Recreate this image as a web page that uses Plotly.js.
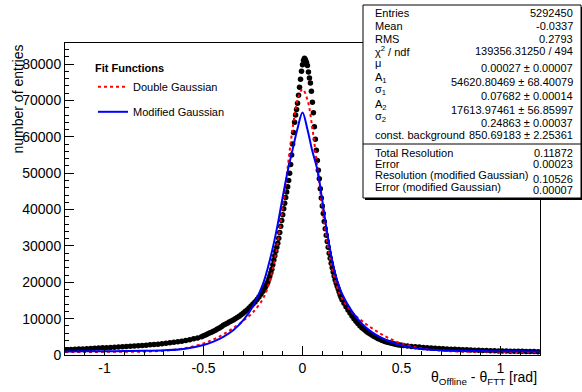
<!DOCTYPE html>
<html>
<head>
<meta charset="utf-8">
<script src="https://cdn.plot.ly/plotly-3.0.1.min.js"></script>
<style>html,body{margin:0;padding:0;background:#fff;}#plot{width:582px;height:392px;}</style>
</head>
<body>
<div id="plot"></div>
<script>
// ---- data ----
const xData = [
 -1.19,-1.17,-1.15,-1.13,-1.11,-1.09,-1.07,-1.05,-1.03,-1.01,-0.99,-0.97,-0.95,-0.93,-0.91,-0.89,-0.87,-0.85,-0.83,-0.81,-0.79,-0.77,-0.75,-0.73,-0.71,-0.69,-0.67,-0.65,-0.63,-0.61,-0.59,-0.57,-0.55,-0.53,-0.51,
 -0.50,-0.49,-0.48,-0.47,-0.46,-0.45,-0.44,-0.43,-0.42,-0.41,-0.40,-0.39,-0.38,-0.37,-0.36,-0.35,-0.34,-0.33,-0.32,-0.31,-0.30,-0.29,-0.28,-0.27,-0.26,-0.25,-0.24,-0.23,-0.22,-0.21,
 -0.200,-0.195,-0.190,-0.185,-0.180,-0.175,-0.170,-0.165,-0.160,-0.155,-0.150,-0.145,-0.140,-0.135,-0.130,-0.125,-0.120,-0.115,-0.110,-0.105,-0.100,-0.095,-0.090,-0.085,-0.080,-0.075,-0.070,-0.065,-0.060,-0.055,-0.050,-0.045,-0.040,-0.035,-0.030,-0.025,-0.020,-0.015,-0.010,-0.005,
 0.000,0.005,0.010,0.015,0.020,0.025,0.030,0.035,0.040,0.045,0.050,0.055,0.060,0.065,0.070,0.075,0.080,0.085,0.090,0.095,0.100,0.105,0.110,0.115,0.120,0.125,0.130,0.135,0.140,0.145,0.150,0.155,0.160,0.165,0.170,0.175,0.180,0.185,0.190,0.195,0.200,
 0.21,0.22,0.23,0.24,0.25,0.26,0.27,0.28,0.29,0.30,0.31,0.32,0.33,0.34,0.35,0.36,0.37,0.38,0.39,0.40,0.41,0.42,0.43,0.44,0.45,0.46,0.47,0.48,0.49,0.50,
 0.51,0.53,0.55,0.57,0.59,0.61,0.63,0.65,0.67,0.69,0.71,0.73,0.75,0.77,0.79,0.81,0.83,0.85,0.87,0.89,0.91,0.93,0.95,0.97,0.99,1.01,1.03,1.05,1.07,1.09,1.11,1.13,1.15,1.17,1.19
];
const yData = [
 1470,1520,1570,1620,1670,1730,1790,1850,1910,1970,2020,2080,2140,2200,2260,2330,2400,2470,2550,2620,2700,2790,2880,2980,3090,3210,3340,3480,3640,3810,4000,4210,4440,4690,5050,
 5300,5530,5770,6020,6280,6550,6840,7140,7450,7780,8150,8450,8750,9050,9350,9650,9950,10300,10650,11050,11500,11950,12400,12900,13450,14000,14600,15250,15950,16700,
 17500,17950,18450,18950,19500,20100,20900,21700,22600,23600,24800,26100,27300,28500,29600,30700,32100,33700,35400,37000,38600,40200,41700,43300,44800,46300,48000,50000,52400,55000,58000,61200,64000,66000,67500,69200,71400,73600,75800,78000,
 79800,81000,81600,81200,80500,79600,77800,76200,74800,72500,69500,66600,62800,59300,56300,53500,50800,48500,45700,43200,41000,38900,36700,34700,32900,31200,29600,28000,26600,25200,24000,22800,21700,20700,19800,19000,18200,17400,16600,15900,15200,
 14200,13300,12400,11550,10750,10000,9300,8650,8050,7500,7050,6600,6200,5820,5470,5150,4850,4570,4310,4070,3860,3670,3500,3340,3200,3070,2950,2840,2740,2650,
 2600,2480,2370,2270,2180,2090,2000,1920,1850,1780,1720,1660,1600,1550,1500,1450,1410,1370,1330,1290,1250,1220,1190,1160,1130,1100,1080,1060,1040,1020,1000,980,960,940,920
];
const xFit = [-1.2,-1.1,-1.0,-0.9,-0.8,-0.7,-0.6,-0.5,-0.45,-0.4,-0.35,-0.3,-0.25,-0.2,-0.175,-0.15,-0.125,-0.1,-0.075,-0.05,-0.025,0,
 0.025,0.05,0.075,0.1,0.125,0.15,0.175,0.2,0.25,0.3,0.35,0.4,0.45,0.5,0.6,0.7,0.8,0.9,1.0,1.1,1.2];
const yDoubleGauss = [850,850,860,880,950,1190,1810,3180,4270,5680,7390,9390,11750,15440,18680,23650,30900,40510,51590,62290,70180,73090,
 70180,62290,51590,40510,30900,23650,18680,15440,11750,9390,7390,5680,4270,3180,1810,1190,950,880,860,850,850];
const yModGauss = [980,1000,1030,1080,1150,1300,1650,2750,3700,5000,6800,9500,13500,19500,24000,29500,36000,43500,50500,56500,62300,66700,
 62000,56000,51000,42500,33500,26000,20500,16800,12000,8600,6300,4700,3500,2700,1650,1300,1150,1080,1030,1000,980];
const xTickVals = [-1,-0.5,0,0.5,1];
const xTickText = ['-1','-0.5','0','0.5','1'];
const legendNames = ['Double Gaussian','Modified Gaussian'];
const statLabels = ['Entries','Mean','RMS','χ<sup>2</sup> / ndf','μ','A<sub>1</sub>','σ<sub>1</sub>','A<sub>2</sub>','σ<sub>2</sub>','const. background',
 'Total Resolution','Error','Resolution (modified Gaussian)','Error (modified Gaussian)'];
const statValues = ['5292450','-0.0337','0.2793','139356.31250 / 494','0.00027 ± 0.00007','54620.80469 ± 68.40079','0.07682 ± 0.00014',
 '17613.97461 ± 56.85997','0.24863 ± 0.00037','850.69183 ± 2.25361','0.11872','0.00023','0.10526','0.00007'];

// ---- layout helpers (pixel -> paper) ----
const L=65, R=540, T=43, B=355;
const px = p => (p-L)/(R-L);
const py = p => (B-p)/(B-T);
const FONT = 'Liberation Sans, Arial, Helvetica, sans-serif';

const traces = [
 {x:xData, y:yData, type:'scatter', mode:'markers', showlegend:false,
  marker:{color:'black', size:5.5, line:{width:0}}},
 {x:xFit, y:yDoubleGauss, type:'scatter', mode:'lines', name:legendNames[0], legendgroup:'a',
  line:{color:'#ff0000', width:2, dash:'3px,3px', shape:'spline', smoothing:1}},
 {x:xFit, y:yModGauss, type:'scatter', mode:'lines', name:legendNames[1], legendgroup:'b',
  line:{color:'#0000ff', width:2, shape:'spline', smoothing:1}}
];

const labelY = [13,26,39,51,63,78,90,105,117,135,153,164,175,187];
const valueY = [13,26,39,51,68,82,96,110,123,135,153,164,179,190];
const annotations = [];
statLabels.forEach((t,i)=>{
  annotations.push({xref:'paper',yref:'paper',x:px(373),y:py(labelY[i]),xanchor:'left',yanchor:'middle',
    text:t,showarrow:false,font:{family:FONT,size:11,color:'black'}});
  annotations.push({xref:'paper',yref:'paper',x:px(575),y:py(valueY[i]),xanchor:'right',yanchor:'middle',
    text:statValues[i],showarrow:false,font:{family:FONT,size:11,color:'black'}});
});
annotations.push({xref:'paper',yref:'paper',x:px(17),y:py(43),xanchor:'center',yanchor:'top',textangle:-90,
  text:'number of entries',showarrow:false,font:{family:FONT,size:14,color:'black'}});
annotations.push({xref:'paper',yref:'paper',x:px(539),y:py(378),xanchor:'right',yanchor:'middle',
  text:'θ<sub>Offline</sub> - θ<sub>FTT</sub> [rad]',showarrow:false,font:{family:FONT,size:14,color:'black'}});

const shapes = [
 {type:'rect',xref:'paper',yref:'paper',x0:px(365),x1:px(583),y0:py(200),y1:py(7),fillcolor:'black',line:{width:0},layer:'above'},
 {type:'rect',xref:'paper',yref:'paper',x0:px(363),x1:px(581),y0:py(198),y1:py(5),fillcolor:'white',line:{color:'black',width:1},layer:'above'},
 {type:'line',xref:'paper',yref:'paper',x0:px(363),x1:px(581),y0:py(144),y1:py(144),line:{color:'black',width:1},layer:'above'}
];

const layout = {
 width:582, height:392,
 margin:{l:L, r:582-R, t:T, b:392-B, pad:0},
 paper_bgcolor:'white', plot_bgcolor:'white',
 font:{family:FONT, size:14, color:'black'},
 showlegend:true,
 legend:{x:px(93), y:py(58), xanchor:'left', yanchor:'top', bgcolor:'rgba(0,0,0,0)', borderwidth:0,
   font:{family:FONT,size:11,color:'black'}, tracegroupgap:6,
   title:{text:'<b>Fit Functions</b>', font:{family:FONT,size:11,color:'black'}}},
 xaxis:{range:[-1.2,1.2], tickvals:xTickVals, ticktext:xTickText, ticks:'inside', ticklen:9, tickwidth:1, tickcolor:'black',
   showline:true, linecolor:'black', linewidth:1, mirror:true, showgrid:false, zeroline:false,
   minor:{dtick:0.1, tick0:0, ticks:'inside', ticklen:4, tickcolor:'black', showgrid:false},
   tickfont:{family:FONT,size:14,color:'black'}},
 yaxis:{range:[0,85800], dtick:10000, tick0:0, tickformat:'d', ticks:'inside', ticklen:9, tickwidth:1, tickcolor:'black',
   showline:true, linecolor:'black', linewidth:1, mirror:true, showgrid:false, zeroline:false,
   minor:{dtick:2000, tick0:0, ticks:'inside', ticklen:4, tickcolor:'black', showgrid:false},
   tickfont:{family:FONT,size:14,color:'black'}},
 annotations:annotations,
 shapes:shapes
};

Plotly.newPlot('plot', traces, layout, {staticPlot:true, displayModeBar:false});
</script>
</body>
</html>
